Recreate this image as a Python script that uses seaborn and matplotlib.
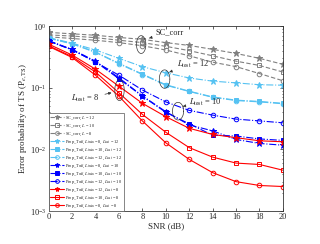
import numpy as np
import pandas as pd
import seaborn as sns
import matplotlib.pyplot as plt

snr = [0, 2, 4, 6, 8, 10, 12, 14, 16, 18, 20]

# SC_corr baselines
sc_l12 = [0.79, 0.75, 0.71, 0.655, 0.61, 0.54, 0.486, 0.42, 0.36, 0.30, 0.24]
sc_l10 = [0.72, 0.69, 0.65, 0.59, 0.54, 0.47, 0.40, 0.33, 0.27, 0.23, 0.18]
sc_l8 = [0.67, 0.63, 0.59, 0.54, 0.48, 0.41, 0.33, 0.26, 0.22, 0.17, 0.13]

# Proposed, L_test = 12
p12_tr8 = [0.65, 0.53, 0.41, 0.30, 0.22, 0.175, 0.144, 0.128, 0.12, 0.112, 0.11]
p12_tr10 = [0.64, 0.52, 0.38, 0.25, 0.167, 0.112, 0.088, 0.071, 0.063, 0.060, 0.056]
p12_tr12 = [0.635, 0.515, 0.375, 0.245, 0.164, 0.110, 0.087, 0.070, 0.062, 0.059, 0.055]

# Proposed, L_test = 10
p10_tr8 = [0.58, 0.42, 0.27, 0.145, 0.074, 0.041, 0.025, 0.020, 0.0145, 0.0125, 0.0117]
p10_tr10 = [0.575, 0.41, 0.265, 0.14, 0.073, 0.040, 0.026, 0.017, 0.0165, 0.0148, 0.014]
p10_tr12 = [0.57, 0.415, 0.26, 0.16, 0.092, 0.059, 0.043, 0.036, 0.031, 0.029, 0.027]

# Proposed, L_test = 8
p8_tr12 = [0.51, 0.34, 0.20, 0.106, 0.056, 0.034, 0.022, 0.0175, 0.0155, 0.0138, 0.0133]
p8_tr10 = [0.48, 0.32, 0.18, 0.083, 0.037, 0.019, 0.0107, 0.0075, 0.006, 0.0057, 0.0046]
p8_tr8 = [0.47, 0.31, 0.16, 0.073, 0.029, 0.0128, 0.0069, 0.0042, 0.003, 0.0026, 0.0025]

gray = "#808080"
cyan = "#55C2F2"
blue = "#0000FF"
red = "#FF0000"

T = r"Prop_T$_\mathrm{mlf}$"
series = [
    (sc_l12, r"SC_corr, $L$ = 12", gray, (0, (4, 2)), "*", gray),
    (sc_l10, r"SC_corr, $L$ = 10", gray, (0, (4, 2)), "s", "none"),
    (sc_l8, r"SC_corr, $L$ = 8", gray, (0, (4, 2)), "o", "none"),
    (p12_tr8, T + r", $L_\mathrm{train}$ = 8, $L_\mathrm{test}$ = 12", cyan, "-.", "*", cyan),
    (p12_tr10, T + r", $L_\mathrm{train}$ = 10, $L_\mathrm{test}$ = 12", cyan, "-.", "s", cyan),
    (p12_tr12, T + r", $L_\mathrm{train}$ = 12, $L_\mathrm{test}$ = 12", cyan, "-.", "o", "none"),
    (p10_tr8, T + r", $L_\mathrm{train}$ = 8, $L_\mathrm{test}$ = 10", blue, "-.", "*", blue),
    (p10_tr10, T + r", $L_\mathrm{train}$ = 10, $L_\mathrm{test}$ = 10", blue, "-.", "s", blue),
    (p10_tr12, T + r", $L_\mathrm{train}$ = 12, $L_\mathrm{test}$ = 10", blue, "-.", "o", "none"),
    (p8_tr12, T + r", $L_\mathrm{train}$ = 12, $L_\mathrm{test}$ = 8", red, "-", "*", red),
    (p8_tr10, T + r", $L_\mathrm{train}$ = 10, $L_\mathrm{test}$ = 8", red, "-", "s", "none"),
    (p8_tr8, T + r", $L_\mathrm{train}$ = 8, $L_\mathrm{test}$ = 8", red, "-", "o", "none"),
]

sns.set_theme(style="ticks")
plt.rcParams["font.family"] = ["Liberation Serif", "DejaVu Serif"]
plt.rcParams["mathtext.fontset"] = "stix"

fig = plt.figure(figsize=(3.2, 2.44), dpi=100)
ax = fig.add_axes([0.152, 0.135, 0.732, 0.758])

for vals, lab, col, ls, mk, fc in series:
    ms = 4.5 if mk == "*" else 3.3
    sns.lineplot(x=snr, y=vals, ax=ax, color=col, linestyle=ls, linewidth=0.8,
                 marker=mk, markersize=ms, markerfacecolor=fc, markeredgecolor=col,
                 markeredgewidth=0.7, label=lab)

ax.set_yscale("log")
ax.set_xlim(0, 20)
ax.set_ylim(1e-3, 1)
ax.set_xticks(range(0, 21, 2))
ax.tick_params(direction="in", which="both", top=True, right=True, labelsize=6,
               length=2, width=0.5, pad=1.5)
ax.tick_params(which="minor", length=1)
for s in ax.spines.values():
    s.set_linewidth(0.6)
    s.set_color("#333333")
ax.set_xlabel("SNR (dB)", fontsize=6.5, labelpad=1)
ax.set_ylabel(r"Error probability of TS (P$_{e,\mathrm{TS}}$)", fontsize=6.5, labelpad=1)

leg = ax.legend(loc="lower left", fontsize=3.2, frameon=True, fancybox=False,
                borderaxespad=0.05, handlelength=3.0, labelspacing=0.18,
                borderpad=0.3, handletextpad=0.4, markerscale=0.8)
leg.get_frame().set_edgecolor("#555555")
leg.get_frame().set_linewidth(0.5)
leg.get_frame().set_alpha(1)
leg.set_zorder(5)

# ellipses around curve groups, drawn in log space
def add_ell(xc, y0, y1, w):
    t = np.linspace(0, 2 * np.pi, 100)
    ly0, ly1 = np.log10(y0), np.log10(y1)
    lc, lr = (ly0 + ly1) / 2, (ly1 - ly0) / 2
    ax.plot(xc + w / 2 * np.cos(t), 10 ** (lc + lr * np.sin(t)), color="#333333", lw=0.5)

add_ell(7.9, 0.36, 0.70, 0.8)
add_ell(9.9, 0.098, 0.195, 0.9)
add_ell(6.05, 0.062, 0.135, 0.8)
add_ell(11.05, 0.03, 0.058, 0.95)

ap = dict(arrowstyle="-|>", color="#333333", lw=0.5, mutation_scale=4)
ax.annotate("SC_corr", xy=(8.35, 0.62), xytext=(9.1, 0.79), fontsize=6, arrowprops=ap, va="center")
ax.annotate(r"$L_\mathrm{test}$ = 12", xy=(10.3, 0.18), xytext=(11.0, 0.24), fontsize=6, arrowprops=ap, va="center")
ax.annotate(r"$L_\mathrm{test}$ = 10", xy=(11.45, 0.05), xytext=(12.0, 0.057), fontsize=6, arrowprops=ap, va="center")
ax.annotate(r"$L_\mathrm{test}$ = 8", xy=(5.6, 0.085), xytext=(1.9, 0.066), fontsize=6, arrowprops=ap,
            va="center", zorder=6)

fig.savefig("out.png", dpi=100)
